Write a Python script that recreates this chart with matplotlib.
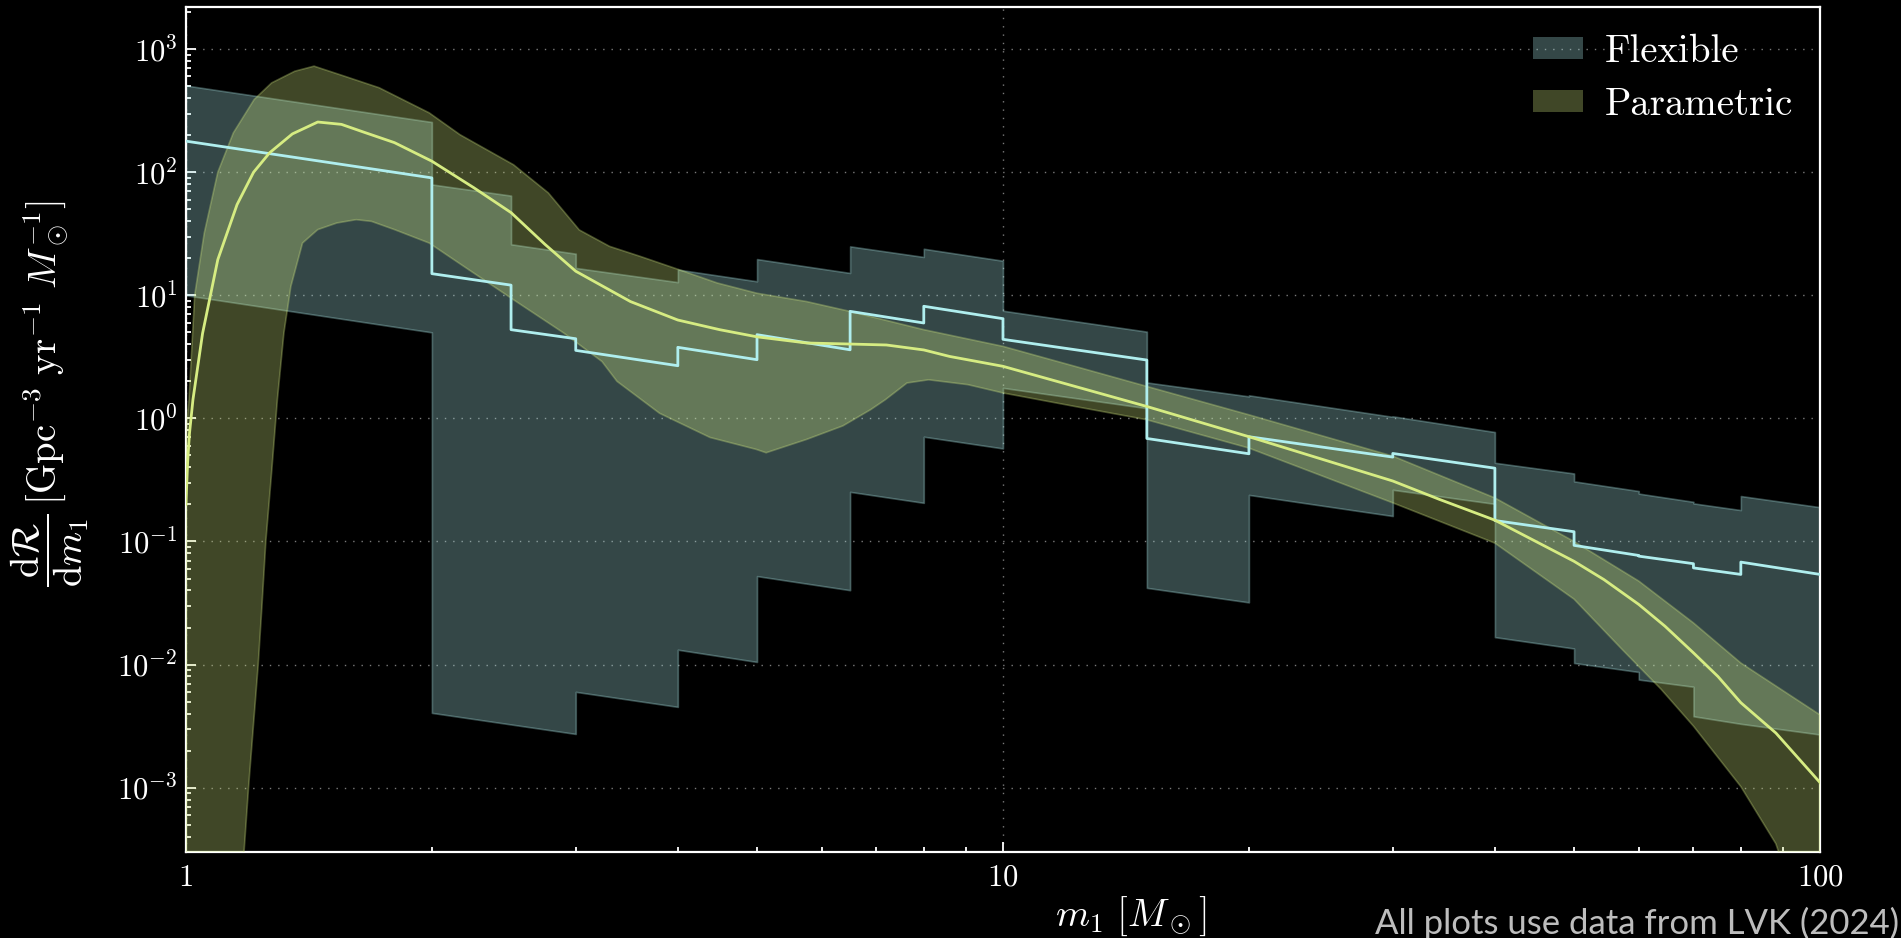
import numpy as np
import matplotlib
matplotlib.use("Agg")
import matplotlib.pyplot as plt
from matplotlib.ticker import LogLocator, FixedLocator, FixedFormatter, NullFormatter

plt.rcParams["font.family"] = "serif"
plt.rcParams["font.serif"] = ["cmr10"]
plt.rcParams["mathtext.fontset"] = "cm"
plt.rcParams["axes.formatter.use_mathtext"] = True

# flexible (binned) model: bin edges and the value at the start / end of each bin
bin_edges = [1, 2, 2.5, 3, 4, 5, 6.5, 8, 10, 15, 20, 30, 40, 50, 60, 70, 80, 100]
flex_median_start = [179, 15, 5.26, 3.57, 3.78, 4.79, 7.41, 8.15, 4.39, 0.687, 0.71, 0.519, 0.148, 0.093, 0.076, 0.061, 0.068]
flex_median_end = [90, 12.1, 4.44, 2.68, 3.0, 3.61, 5.96, 6.46, 2.98, 0.516, 0.485, 0.394, 0.12, 0.077, 0.066, 0.054, 0.054]
flex_upper_start = [507, 79.6, 26, 16.7, 16.2, 19.7, 25.0, 23.9, 7.5, 1.96, 1.54, 1.04, 0.436, 0.308, 0.245, 0.204, 0.234]
flex_upper_end = [256, 64.6, 21.8, 12.8, 13.0, 15.2, 20.5, 19.1, 5.07, 1.51, 1.03, 0.775, 0.357, 0.257, 0.21, 0.18, 0.19]
flex_lower_start = [10, 4.05e-3, 3.26e-3, 6.0e-3, 1.32e-2, 0.0523, 0.253, 0.71, 1.77, 0.042, 0.239, 0.263, 0.0167, 0.0103, 0.00755, 0.0038, 0.0033]
flex_lower_end = [5.0, 3.26e-3, 2.73e-3, 4.53e-3, 1.05e-2, 0.0402, 0.206, 0.57, 1.21, 0.032, 0.161, 0.202, 0.0135, 0.0087, 0.0066, 0.0033, 0.0027]

# parametric model: median and 90% band
param_med_m = [1.0, 1.005, 1.01, 1.02, 1.048, 1.094, 1.155, 1.21, 1.266, 1.35, 1.45, 1.55, 1.65, 1.8, 2.0,
               2.25, 2.5, 2.75, 3.0, 3.5, 4.0, 4.5, 5.0, 5.75, 6.5, 7.2, 8.0, 8.6, 10, 12.25, 15, 20, 30,
               34.2, 40, 50, 54.4, 60, 64.6, 70, 75, 80, 88.3, 100]
param_med = [0.2, 0.45, 0.75, 1.42, 4.9, 19.5, 54.6, 100, 144, 205, 256, 245, 212, 174, 123,
             75, 47, 26, 15.7, 8.9, 6.3, 5.26, 4.6, 4.1, 4.02, 3.95, 3.6, 3.19, 2.65, 1.82, 1.25, 0.71, 0.31,
             0.22, 0.149, 0.069, 0.049, 0.0308, 0.0205, 0.01245, 0.008, 0.0049, 0.00278, 0.0011]

param_up_m = [1.0, 1.004, 1.0087, 1.025, 1.053, 1.094, 1.143, 1.212, 1.273, 1.359, 1.435, 1.564, 1.724,
              1.985, 2.165, 2.518, 2.777, 3.03, 3.3, 3.6, 4.01, 4.47, 5.0, 5.75, 6.5, 8.0, 10, 12.25, 15,
              20, 30, 40, 50, 60, 70, 80, 100]
param_up = [0.6, 1.0, 1.42, 10, 32, 100, 209, 390, 532, 662, 728, 603, 486,
            304, 202, 115, 68, 34, 25, 20.7, 16.2, 12.6, 10.4, 8.9, 7.4, 5.26, 3.85, 2.65, 1.82,
            1.07, 0.494, 0.226, 0.1, 0.0477, 0.0218, 0.0103, 0.0039]

param_lo_m = [1.0, 1.16, 1.178, 1.193, 1.226, 1.239, 1.2526, 1.273, 1.294, 1.318, 1.344, 1.389, 1.45,
              1.53, 1.616, 1.687, 1.80, 1.985, 2.188, 2.518, 2.90, 3.23, 3.37, 3.80, 4.38, 4.99, 5.13,
              5.75, 6.37, 6.89, 7.18, 7.63, 8.11, 9.06, 10, 12.25, 15, 20, 30, 40, 50, 57.3, 63.9, 70,
              80, 88.3, 100]
param_lo = [1e-5, 1.5e-4, 3e-4, 1e-3, 0.01, 0.03, 0.1, 0.36, 1.42, 4.94, 11.8, 26.6, 34.2,
            38.7, 41.2, 39.9, 34.2, 26.6, 17.2, 9.2, 4.94, 2.9, 2.0, 1.1, 0.70, 0.56, 0.526,
            0.675, 0.87, 1.18, 1.42, 1.94, 2.06, 1.88, 1.61, 1.25, 0.975, 0.574, 0.206, 0.097, 0.034,
            0.0132, 0.0063, 0.00316, 0.00102, 3.5e-4, 3e-5]

flex_color = "#afeeee"
param_color = "#d6ec82"


def bins_to_xy(edges, start, end):
    x = np.repeat(edges, 2)[1:-1]
    y = np.column_stack([start, end]).ravel()
    return x, y


fig = plt.figure(figsize=(19.01, 9.38), dpi=100, facecolor="black")
ax = fig.add_axes([0.0978, 0.0917, 0.8596, 0.9008])
ax.set_facecolor("black")
ax.set_xscale("log")
ax.set_yscale("log")

fx, f_up = bins_to_xy(bin_edges, flex_upper_start, flex_upper_end)
_, f_lo = bins_to_xy(bin_edges, flex_lower_start, flex_lower_end)
_, f_med = bins_to_xy(bin_edges, flex_median_start, flex_median_end)

ax.fill_between(fx, f_lo, f_up, facecolor=flex_color, edgecolor=flex_color,
                alpha=0.3, lw=1.2, label="Flexible", zorder=2)
ax.fill(np.concatenate([param_up_m, param_lo_m[::-1]]),
        np.concatenate([param_up, param_lo[::-1]]),
        facecolor=param_color, edgecolor=param_color, alpha=0.3, lw=1.2,
        label="Parametric", zorder=3)
ax.plot(fx, f_med, color=flex_color, lw=2, zorder=4)
ax.plot(param_med_m, param_med, color=param_color, lw=2, zorder=5)

ax.set_xlim(1, 100)
ax.set_ylim(3e-4, 2.2e3)

ax.xaxis.set_major_locator(FixedLocator([1, 10, 100]))
ax.xaxis.set_major_formatter(FixedFormatter(["$1$", "$10$", "$100$"]))
ax.xaxis.set_minor_locator(LogLocator(base=10, subs=np.arange(2, 10)))
ax.xaxis.set_minor_formatter(NullFormatter())
ax.yaxis.set_major_locator(LogLocator(base=10, numticks=20))
ax.yaxis.set_minor_locator(LogLocator(base=10, subs=np.arange(2, 10), numticks=20))
ax.yaxis.set_minor_formatter(NullFormatter())

ax.tick_params(which="both", direction="in", colors="white", labelsize=22, width=1.3)
ax.tick_params(which="major", length=7)
ax.tick_params(which="minor", length=3.5)
ax.tick_params(axis="x", pad=9)
ax.tick_params(axis="y", pad=6)
for sp in ax.spines.values():
    sp.set_color("white")
    sp.set_linewidth(1.6)

ax.grid(True, which="major", color="#7a7a7a", linestyle=(0, (1, 5)), lw=1.0, zorder=1)

ax.set_xlabel(r"$m_1\ [M_\odot]$", fontsize=28, color="white")
ax.xaxis.set_label_coords(0.578, -0.05)
ax.set_ylabel(r"$\dfrac{\mathrm{d}\mathcal{R}}{\mathrm{d}m_1}\,[\mathrm{Gpc}^{-3}\ \mathrm{yr}^{-1}\ M_\odot^{-1}]$",
              fontsize=28, color="white")
ax.yaxis.set_label_coords(-0.058, 0.542)

leg = ax.legend(loc="upper right", frameon=False, fontsize=28, handlelength=1.3,
                handleheight=0.5, handletextpad=0.55, labelspacing=0.43, borderaxespad=0.3)
for t in leg.get_texts():
    t.set_color("white")
for h in leg.legend_handles:
    h.set_linewidth(0)

fig.text(0.999, 0.004, "All plots use data from LVK (2024)", ha="right", va="baseline",
         family="Lato", fontsize=25, color="#bdbdbd")

fig.savefig("out.png", dpi=100, facecolor="black")
